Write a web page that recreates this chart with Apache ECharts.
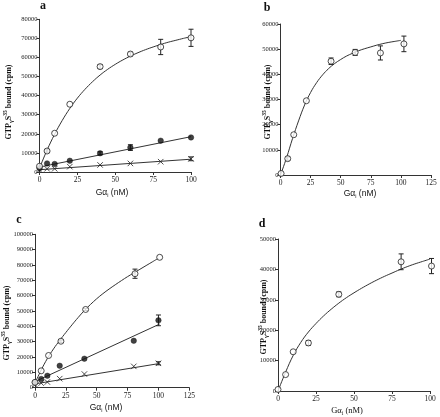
<!DOCTYPE html>
<html><head><meta charset="utf-8">
<script src="https://cdn.jsdelivr.net/npm/echarts@6/dist/echarts.min.js"></script>
<style>html,body{margin:0;padding:0;background:#fff}#c{width:440px;height:417px}</style>
</head><body><div id="c"></div>
<script>
// ---------- Panel a ----------
const aX = [0, 5, 10, 20, 40, 60, 80, 100];
const aOpen = [3000, 11000, 20300, 35500, 55200, 61800, 65500, 70300];
const aOpenErr = [0, 700, 0, 0, 1000, 1000, 4000, 4500];
const aFilled = [2000, 4500, 4200, 5900, 9800, 12800, 16400, 18100];
const aFilledErr = [0, 0, 0, 0, 800, 1500, 0, 0];
const aCross = [1000, 1700, 1700, 2800, 3700, 4500, 5400, 6900];
const aCrossErr = [0, 0, 0, 0, 0, 0, 0, 1000];
const curveX = [0, 5, 10, 15, 20, 25, 30, 35, 40, 45, 50, 55, 60, 65, 70, 75, 80, 85, 90, 95, 100];
const aOpenCurve = [2000, 11500, 19800, 27000, 33300, 38700, 43300, 47300, 50800, 53800, 56400, 58700, 60700, 62500, 64100, 65500, 66800, 68000, 69000, 70000, 70900];
const aLineX = [0, 100];
const aFilledLine = [2600, 18500];
const aCrossLine = [1200, 6700];

// ---------- Panel b ----------
const bX = [0.5, 6, 11, 21.5, 42, 62, 83, 102.5];
const bOpen = [600, 6500, 16000, 29500, 45200, 48700, 48500, 52100];
const bOpenErr = [0, 700, 0, 0, 1300, 1200, 2800, 3100];
const bCurve = [0, 6800, 14500, 21500, 27800, 32800, 36700, 39800, 42300, 44300, 45900, 47300, 48400, 49400, 50200, 50900, 51600, 52200, 52700, 53100, 53500];

// ---------- Panel c ----------
const cXOpen = [0, 5, 11, 21, 41, 81, 101];
const cX = [0, 5, 10, 20, 40, 80, 100];
const cOpen = [3500, 11000, 21000, 30300, 51000, 74300, 85000];
const cOpenErr = [0, 0, 0, 800, 700, 3000, 0];
const cFilled = [3500, 5700, 7800, 14300, 18900, 30600, 43900];
const cFilledErr = [0, 0, 0, 0, 0, 0, 3500];
const cCross = [2000, 3000, 3700, 5900, 8900, 13900, 15900];
const cCrossErr = [0, 0, 0, 0, 0, 0, 1000];
const cOpenCurve = [3000, 11500, 19000, 25300, 30800, 36000, 41000, 45800, 50300, 54300, 58000, 61300, 64300, 67100, 69800, 72400, 74800, 77200, 79600, 82000, 84400];
const cLineX = [0, 101];
const cFilledLine = [4000, 41500];
const cCrossLine = [2500, 15800];

// ---------- Panel d ----------
const dX = [0, 5, 10, 20, 40, 81, 101];
const dOpen = [500, 5400, 12900, 15800, 31800, 42500, 41100];
const dOpenErr = [0, 0, 0, 800, 800, 2600, 2500];
const dCurve = [0, 6200, 11700, 16000, 19400, 22200, 24700, 26900, 28900, 30700, 32300, 33800, 35200, 36500, 37700, 38800, 39900, 40900, 41800, 42600, 43400];

// ---------- Texts ----------
const panelLetters = ['a', 'b', 'c', 'd'];
const yTitle = 'GTP{s|\u03b3}S{p|35} bound (cpm)';
const xTitle = 'G\u03b1{s|i} (nM)';

const chart = echarts.init(document.getElementById('c'), null, {renderer: 'canvas'});
const pairs = (xs, ys) => xs.map((x, i) => [x, ys[i]]);
const errs = (xs, ys, es) => xs.map((x, i) => [x, ys[i], es[i]]).filter(d => d[2] > 0);
const INK = '#222';
const SERIF = 'Liberation Serif';
const SANS = 'Liberation Sans';

function errRender(params, api) {
  const x = api.value(0), y = api.value(1), e = api.value(2);
  const t = api.coord([x, y + e]), b = api.coord([x, y - e]);
  const w = 2.5;
  const st = {stroke: INK, lineWidth: 1};
  return {type: 'group', children: [
    {type: 'line', shape: {x1: t[0], y1: t[1], x2: b[0], y2: b[1]}, style: st},
    {type: 'line', shape: {x1: t[0] - w, y1: t[1], x2: t[0] + w, y2: t[1]}, style: st},
    {type: 'line', shape: {x1: b[0] - w, y1: b[1], x2: b[0] + w, y2: b[1]}, style: st}
  ]};
}

const grids = [
  {left: 39.5, top: 19.3, width: 151.5, height: 152.7},
  {left: 280.5, top: 24, width: 150.5, height: 151},
  {left: 35, top: 234.3, width: 154.3, height: 153.4},
  {left: 278, top: 239, width: 152, height: 152}
];
const xMax = [100, 125, 125, 100];
const yMax = [80000, 60000, 100000, 50000];

const xAxis = grids.map((g, i) => ({
  gridIndex: i, type: 'value', min: 0, max: xMax[i], interval: 25,
  axisLine: {lineStyle: {color: '#333', width: 1}},
  axisTick: {length: 3, lineStyle: {color: '#333'}},
  splitLine: {show: false},
  axisLabel: {fontSize: 7.5, fontFamily: SERIF, color: INK, margin: 4, formatter: v => String(v)}
}));
const yAxis = grids.map((g, i) => ({
  gridIndex: i, type: 'value', min: 0, max: yMax[i], interval: 10000,
  axisLine: {show: true, lineStyle: {color: '#333', width: 1}},
  axisTick: {show: true, length: 3, lineStyle: {color: '#333'}},
  splitLine: {show: false},
  axisLabel: {show: true, fontSize: 6.5, fontFamily: SERIF, color: INK, margin: 2, formatter: v => String(v)}
}));

const series = [];
function curve(gi, xs, ys, smooth) {
  series.push({type: 'line', xAxisIndex: gi, yAxisIndex: gi, data: pairs(xs, ys),
    showSymbol: false, smooth: smooth, lineStyle: {color: '#333', width: 1}, z: 2, silent: true});
}
function ebar(gi, xs, ys, es) {
  series.push({type: 'custom', xAxisIndex: gi, yAxisIndex: gi, data: errs(xs, ys, es),
    renderItem: errRender, encode: {x: 0, y: 1}, clip: false, z: 3});
}
function pts(gi, xs, ys, kind) {
  let s = {type: 'scatter', xAxisIndex: gi, yAxisIndex: gi, data: pairs(xs, ys), z: 5, clip: false};
  if (kind === 'open') { s.symbol = 'circle'; s.symbolSize = 6; s.itemStyle = {color: '#fff', borderColor: INK, borderWidth: 1}; }
  else if (kind === 'filled') { s.symbol = 'circle'; s.symbolSize = 5.5; s.itemStyle = {color: '#111', borderColor: '#111', borderWidth: 0.5}; }
  else { s.symbol = 'path://M0,0L10,10M10,0L0,10'; s.symbolSize = 5.5; s.itemStyle = {color: 'rgba(0,0,0,0)', borderColor: INK, borderWidth: 1}; }
  series.push(s);
}

// a
curve(0, curveX, aOpenCurve, 0.4); curve(0, aLineX, aFilledLine, false); curve(0, aLineX, aCrossLine, false);
ebar(0, aX, aOpen, aOpenErr); ebar(0, aX, aFilled, aFilledErr); ebar(0, aX, aCross, aCrossErr);
pts(0, aX, aCross, 'cross'); pts(0, aX, aFilled, 'filled'); pts(0, aX, aOpen, 'open');
// b
curve(1, curveX, bCurve, 0.4); ebar(1, bX, bOpen, bOpenErr); pts(1, bX, bOpen, 'open');
// c
curve(2, curveX, cOpenCurve, 0.4); curve(2, cLineX, cFilledLine, false); curve(2, cLineX, cCrossLine, false);
ebar(2, cXOpen, cOpen, cOpenErr); ebar(2, cX, cFilled, cFilledErr); ebar(2, cX, cCross, cCrossErr);
pts(2, cX, cCross, 'cross'); pts(2, cX, cFilled, 'filled'); pts(2, cXOpen, cOpen, 'open');
// d
curve(3, curveX, dCurve, 0.4); ebar(3, dX, dOpen, dOpenErr); pts(3, dX, dOpen, 'open');

const letterPos = [[43, 6], [267, 8], [19, 220], [262, 224]];
const yTitlePos = [[8.5, 102], [267.5, 102], [6.5, 323], [263.5, 317]];
const xTitlePos = [[112, 193], [360, 193.5], [106, 407.5], [347, 411]];
const xTitleFont = [SANS, SANS, SANS, SERIF];

const graphic = [];
letterPos.forEach((p, i) => graphic.push({type: 'text', x: p[0], y: p[1], silent: true,
  style: {text: panelLetters[i], fontSize: 12, fontWeight: 'bold', fontFamily: SERIF, fill: '#111', align: 'center', verticalAlign: 'middle'}}));
yTitlePos.forEach((p, i) => graphic.push({type: 'text', x: p[0], y: p[1], rotation: Math.PI / 2, silent: true,
  style: {text: yTitle, fontSize: 8, fontWeight: 'bold', fontFamily: SERIF, fill: '#111', lineHeight: 11, align: 'center', verticalAlign: 'middle',
    rich: {s: {fontSize: 6, fontWeight: 'bold', fontFamily: SERIF, fill: '#111', lineHeight: 6, verticalAlign: 'bottom'},
           p: {fontSize: 5.5, fontWeight: 'bold', fontFamily: SERIF, fill: '#111', lineHeight: 5.5, verticalAlign: 'top'}}}}));
xTitlePos.forEach((p, i) => graphic.push({type: 'text', x: p[0], y: p[1], silent: true,
  style: {text: xTitle, fontSize: 8.5, fontFamily: xTitleFont[i], fill: '#111', lineHeight: 11, align: 'center', verticalAlign: 'middle',
    rich: {s: {fontSize: 5.5, fontFamily: xTitleFont[i], fill: '#111', lineHeight: 6, verticalAlign: 'bottom'}}}}));

chart.setOption({animation: false, backgroundColor: '#fff', grid: grids, xAxis: xAxis, yAxis: yAxis, series: series, graphic: graphic});
// force a full display-list update so every axis label is painted
chart.getZr().storage.getDisplayList(true);
chart.getZr().refreshImmediately();
</script>
</body></html>
